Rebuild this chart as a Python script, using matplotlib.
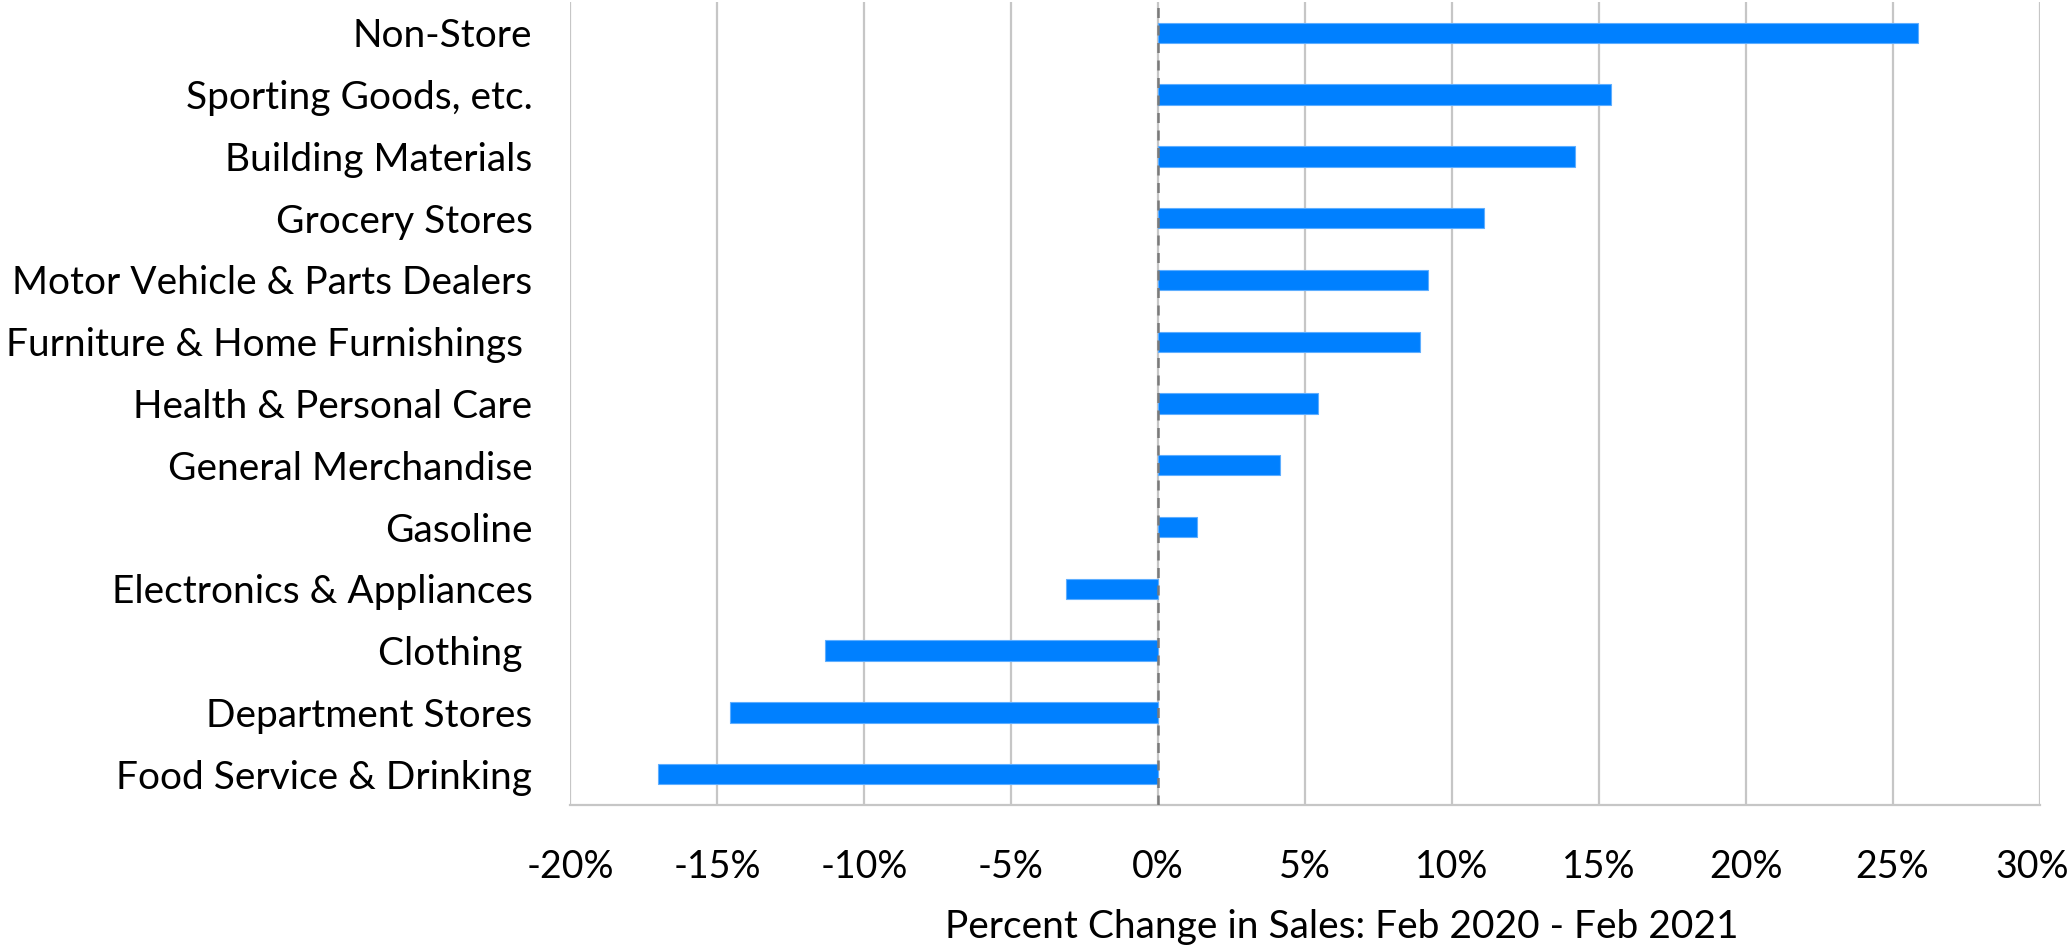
import matplotlib
matplotlib.use("Agg")
import matplotlib.pyplot as plt
from matplotlib.transforms import ScaledTranslation

plt.rcParams['font.family'] = ['Lato', 'DejaVu Sans']

# Retail categories, top to bottom
categories = [
    "Non-Store",
    "Sporting Goods, etc.",
    "Building Materials",
    "Grocery Stores",
    "Motor Vehicle & Parts Dealers",
    "Furniture & Home Furnishings ",
    "Health & Personal Care",
    "General Merchandise",
    "Gasoline",
    "Electronics & Appliances",
    "Clothing ",
    "Department Stores",
    "Food Service & Drinking",
]
# Percent change in sales, Feb 2020 - Feb 2021
pct_change = [25.85, 15.42, 14.2, 11.1, 9.2, 8.92, 5.45, 4.17, 1.34,
              -3.12, -11.34, -14.56, -17.02]

x_ticks = [-20, -15, -10, -5, 0, 5, 10, 15, 20, 25, 30]
x_tick_labels = ["-20%", "-15%", "-10%", "-5%", "0%", "5%", "10%",
                 "15%", "20%", "25%", "30%"]
x_title = "Percent Change in Sales: Feb 2020 - Feb 2021"

W, H, DPI = 2072, 947, 100
fig = plt.figure(figsize=(W / DPI, H / DPI), dpi=DPI)
ax = fig.add_axes([570 / W, 1 - 805 / H, (2039.5 - 570) / W, (805 - 2) / H])

n = len(categories)
ypos = list(range(n))
ax.barh(ypos, pct_change, height=0.33, color="#0080FF",
        edgecolor="#5eaeff", linewidth=0.8, zorder=3)

ax.set_ylim(n - 0.5, -0.5)
ax.set_xlim(x_ticks[0], x_ticks[-1])
ax.set_yticks(ypos)
ax.set_yticklabels(categories)
ax.set_xticks(x_ticks)
ax.set_xticklabels(x_tick_labels)

grid_color = "#c6c6c6"
ax.grid(axis="x", color=grid_color, linewidth=1.6, zorder=0)
ax.grid(axis="y", visible=False)
for side in ("top", "right", "left"):
    ax.spines[side].set_visible(False)
ax.spines["bottom"].set_color(grid_color)
ax.spines["bottom"].set_linewidth(1.6)

# dashed zero reference line
ax.axvline(0, color="#7a7a7a", linewidth=1.8, linestyle=(0, (4, 3)), zorder=4)

ax.tick_params(axis="both", length=0, colors="black")
ax.tick_params(axis="y", labelsize=28, pad=27)
ax.tick_params(axis="x", labelsize=27, pad=32)

# nudge the rightmost tick label so it stays inside the canvas
last = ax.xaxis.get_major_ticks()[-1].label1
last.set_transform(last.get_transform() + ScaledTranslation(-5 / 72, 0, fig.dpi_scale_trans))

fig.text(1342 / W, 1 - 927 / H, x_title, ha="center", va="center", fontsize=28)

fig.savefig("out.png", dpi=DPI)
